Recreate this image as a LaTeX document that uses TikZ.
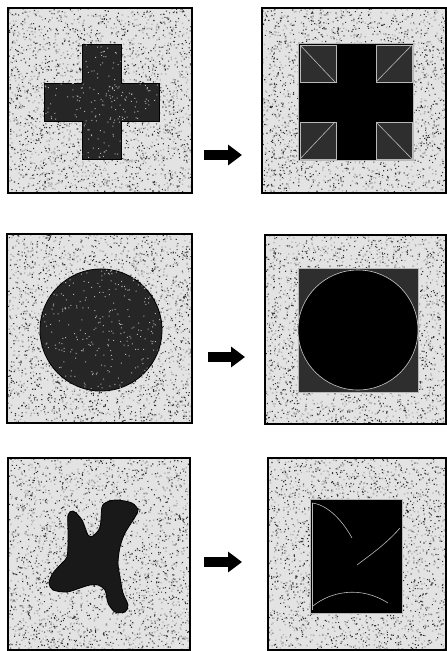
\documentclass[tikz,border=0pt]{standalone}
\usetikzlibrary{arrows.meta}

\begin{document}
\begin{tikzpicture}[
    x=1pt, y=-1pt,
    ground/.style={fill=gray!22},
    speck/.style={fill=black!80},
    fleck/.style={fill=gray!60},
    panel/.style={draw, line width=1.4pt, inner sep=0pt, outer sep=0pt},
    blot/.style={fill=black!85, draw=black, line width=0.8pt},
    result/.style={fill=black, draw=gray!55, line width=0.8pt},
    seam/.style={draw=gray!55, line width=0.6pt},
    blockarrow/.style={line width=10pt, -{Triangle[length=14pt, width=20pt]}}
]
\useasboundingbox (0,0) rectangle (447,651);
\pgfmathsetseed{1234}

% noisy panels
\foreach \name/\px/\py/\pw/\ph in {cross/8/8/184/185, crossout/262/8/184/185,
    disc/7/234/185/189, discout/265/235/181/189,
    blob/8/458/182/192, blobout/268/458/178/192}{
  \fill[ground] (\px,\py) rectangle ++(\pw,\ph);
  \fill[speck] \foreach \k in {1,...,1400}{
    ({\px+(\pw-1.2)*rnd},{\py+(\ph-1.2)*rnd}) rectangle ++(1.1,1.1)};
  \fill[fleck] \foreach \k in {1,...,1100}{
    ({\px+(\pw-1.4)*rnd},{\py+(\ph-1.4)*rnd}) rectangle ++(1.3,1.3)};
  \node[panel, minimum width=\pw pt, minimum height=\ph pt, anchor=north west] (\name) at (\px,\py) {};
}

% row 1: cross and its filled square
\draw[blot] (82,44) -- (121,44) -- (121,83) -- (159,83) -- (159,121) -- (121,121)
  -- (121,159) -- (82,159) -- (82,121) -- (44,121) -- (44,83) -- (82,83) -- cycle;
\begin{scope}
  \clip (82,44) -- (121,44) -- (121,83) -- (159,83) -- (159,121) -- (121,121)
    -- (121,159) -- (82,159) -- (82,121) -- (44,121) -- (44,83) -- (82,83) -- cycle;
  \fill[fleck] \foreach \k in {1,...,300}{
    ({44+114*rnd},{44+114*rnd}) rectangle ++(1,1)};
\end{scope}
\draw[result] (298,43) rectangle (413,160);
\foreach \cx/\cy/\sx/\sy/\ex/\ey in {300/45/300/45/335/82, 376/45/376/82/412/45,
    300/122/300/159/335/122, 376/122/376/122/412/159}{
  \fill[black!82] (\cx,\cy) rectangle ++(36,37);
  \draw[seam] (\cx,\cy) rectangle ++(36,37);
  \draw[seam] (\sx,\sy) -- (\ex,\ey);
}

% row 2: disc and its filled square
\fill[blot] (101,330) circle (61);
\begin{scope}
  \clip (101,330) circle (61);
  \fill[fleck] \foreach \k in {1,...,300}{
    ({40+122*rnd},{269+122*rnd}) rectangle ++(1,1)};
\end{scope}
\draw[result, fill=black!82] (298,268) rectangle (418,392);
\fill[black] (358,330) circle (60);
\draw[seam, gray!40] (358,330) circle (60);

% row 3: irregular blob and its bounding box
\draw[blot, fill=black!90] plot[smooth cycle, tension=0.5] coordinates {
  (68,515) (73,511) (82,520) (88,535) (93,536) (100,527) (102,507) (107,502)
  (117,500) (132,503) (138,510) (135,517) (125,533) (120,547) (118,563)
  (120,577) (123,593) (128,605) (125,612) (115,612) (108,603) (105,590)
  (98,585) (90,585) (80,588) (67,592) (53,590) (49,583) (53,573) (62,563)
  (67,557) (68,543) (68,530)};
\draw[result] (310,499) rectangle (402,613);
\draw[seam] (312,503) .. controls (330,505) and (345,525) .. (352,538);
\draw[seam] (400,528) .. controls (385,545) and (370,555) .. (357,565);
\draw[seam] (313,606) .. controls (330,592) and (360,585) .. (388,603);
\draw[seam] (312,503) -- (312,610);

% arrows
\coordinate (go1) at (204,155);
\coordinate (to1) at (242,155);
\coordinate (go2) at (208,357);
\coordinate (to2) at (245,357);
\coordinate (go3) at (204,562);
\coordinate (to3) at (242,562);
\draw[blockarrow] (go1) -- (to1);
\draw[blockarrow] (go2) -- (to2);
\draw[blockarrow] (go3) -- (to3);
\end{tikzpicture}
\end{document}
